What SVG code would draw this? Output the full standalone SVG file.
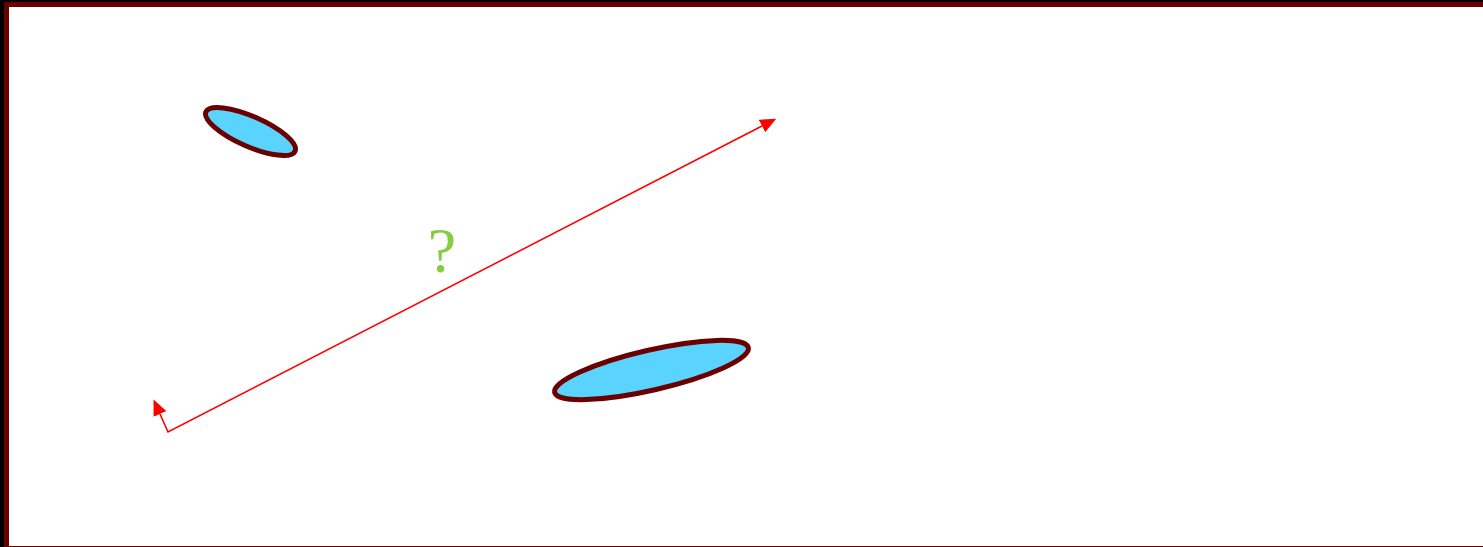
<svg xmlns="http://www.w3.org/2000/svg" width="1483" height="547" viewBox="0 0 1483 547">
<style>
.node{fill:#5bd3ff;stroke:#6b0000;stroke-width:5}
.conn{fill:none;stroke:#ff0000;stroke-width:1.6}
.lbl{font-family:"Liberation Serif",serif;font-size:64px;fill:#88cc44;text-anchor:middle}
</style>
<defs>
<marker id="ah" viewBox="0 0 16 14" refX="0" refY="7" markerWidth="16" markerHeight="14" markerUnits="userSpaceOnUse" orient="auto-start-reverse">
<path d="M0,0 L16,7 L0,14 z" fill="#ff0000"/>
</marker>
</defs>
<rect x="0" y="0" width="1483" height="547" fill="#000000"/>
<rect x="6.5" y="4.5" width="1490" height="544" fill="#ffffff" stroke="#6b0000" stroke-width="5"/>
<g id="node1"><ellipse class="node" cx="250.5" cy="131.5" rx="48.7" ry="15" transform="rotate(23.8 250.5 131.5)"/></g>
<g id="node2"><ellipse class="node" cx="651.5" cy="370" rx="99.4" ry="20" transform="rotate(-13 651.5 370)"/></g>
<g id="connectors">
<path class="conn" d="M762,126 L168,432 L160,414" marker-start="url(#ah)" marker-end="url(#ah)"/>
<text class="lbl" x="442" y="272">?</text>
</g>
</svg>
